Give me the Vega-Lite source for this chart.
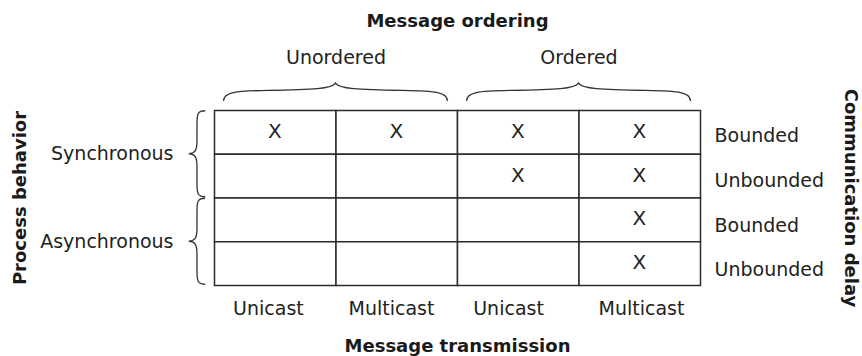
{
  "$schema": "https://vega.github.io/schema/vega-lite/v6.json",
  "width": 486,
  "height": 175,
  "autosize": {"type": "none"},
  "padding": {"left": 214, "top": 110, "right": 162, "bottom": 71},
  "background": "white",
  "config": {
    "view": {"stroke": null},
    "font": "DejaVu Sans",
    "axis": {
      "domain": false, "ticks": false, "grid": false,
      "labelFont": "DejaVu Sans", "labelFontSize": 19, "labelColor": "#222",
      "labelOverlap": false, "labelFlush": false,
      "titleFont": "DejaVu Sans", "titleFontSize": 18, "titleFontWeight": "bold", "titleColor": "#1a1a1a"
    }
  },
  "datasets": {
    "cells": [
      {"row": 0, "col": 0, "mark": "X"}, {"row": 0, "col": 1, "mark": "X"}, {"row": 0, "col": 2, "mark": "X"}, {"row": 0, "col": 3, "mark": "X"},
      {"row": 1, "col": 0, "mark": ""}, {"row": 1, "col": 1, "mark": ""}, {"row": 1, "col": 2, "mark": "X"}, {"row": 1, "col": 3, "mark": "X"},
      {"row": 2, "col": 0, "mark": ""}, {"row": 2, "col": 1, "mark": ""}, {"row": 2, "col": 2, "mark": ""}, {"row": 2, "col": 3, "mark": "X"},
      {"row": 3, "col": 0, "mark": ""}, {"row": 3, "col": 1, "mark": ""}, {"row": 3, "col": 2, "mark": ""}, {"row": 3, "col": 3, "mark": "X"}
    ],
    "ordering": [{"ordering": "Unordered", "center": 1}, {"ordering": "Ordered", "center": 3}],
    "behavior": [{"behavior": "Synchronous", "center": 1}, {"behavior": "Asynchronous", "center": 3}]
  },
  "layer": [
    {
      "data": {"name": "cells"},
      "mark": {"type": "rect", "fill": "white", "stroke": "#2b2b2b", "strokeWidth": 1.5, "binSpacing": 0},
      "encoding": {
        "x": {"field": "col", "type": "quantitative", "bin": {"step": 1, "extent": [0, 4]},
          "scale": {"domain": [0, 4], "nice": false, "zero": false},
          "axis": {"orient": "bottom", "values": [0.444, 1.457, 2.42, 3.514],
            "labelExpr": "datum.value < 1 ? 'Unicast' : datum.value < 2 ? 'Multicast' : datum.value < 3 ? 'Unicast' : 'Multicast'",
            "labelPadding": 14, "title": "Message transmission", "titlePadding": 19}},
        "y": {"field": "row", "type": "quantitative", "bin": {"step": 1, "extent": [0, 4]},
          "scale": {"domain": [0, 4], "nice": false, "zero": false, "reverse": true},
          "axis": {"orient": "left", "values": [1, 3],
            "labelExpr": "datum.value < 2 ? 'Synchronous' : 'Asynchronous'",
            "labelPadding": 41, "title": "Process behavior", "titlePadding": 10}}
      }
    },
    {
      "data": {"name": "cells"},
      "mark": {"type": "text", "fontSize": 20, "color": "#222", "align": "center", "baseline": "middle", "font": "DejaVu Sans"},
      "encoding": {
        "x": {"field": "col", "type": "quantitative", "bin": {"step": 1, "extent": [0, 4]}, "scale": {"domain": [0, 4], "nice": false, "zero": false}, "axis": null},
        "y": {"field": "row", "type": "quantitative", "bin": {"step": 1, "extent": [0, 4]}, "scale": {"domain": [0, 4], "nice": false, "zero": false, "reverse": true}, "axis": null},
        "text": {"field": "mark"}
      }
    },
    {
      "data": {"name": "ordering"},
      "mark": {"type": "point", "shape": "M -1 0.08 C -1 0.0 -0.9 -0.01 -0.6 -0.015 C -0.2 -0.02 -0.03 -0.03 0 -0.08 C 0.03 -0.03 0.2 -0.02 0.6 -0.015 C 0.9 -0.01 1 0 1 0.08", "size": 50176, "filled": false, "stroke": "#333", "strokeWidth": 1.3, "opacity": 1},
      "encoding": {
        "x": {"field": "center", "type": "quantitative", "scale": {"domain": [0, 4], "nice": false, "zero": false},
          "axis": {"orient": "top", "values": [1, 3],
            "labelExpr": "datum.value < 2 ? 'Unordered' : 'Ordered'",
            "labelPadding": 43, "title": "Message ordering", "titlePadding": 18}},
        "y": {"datum": -0.41, "type": "quantitative", "scale": {"domain": [0, 4], "nice": false, "zero": false, "reverse": true}, "axis": null}
      }
    },
    {
      "data": {"name": "behavior"},
      "mark": {"type": "point", "shape": "M 0.19 -1 C 0.02 -1 0 -0.93 0 -0.7 L 0 -0.3 C 0 -0.08 -0.04 -0.01 -0.19 0 C -0.04 0.01 0 0.08 0 0.3 L 0 0.7 C 0 0.93 0.02 1 0.19 1", "size": 7396, "filled": false, "stroke": "#333", "strokeWidth": 1.3, "opacity": 1},
      "encoding": {
        "x": {"datum": -0.14, "type": "quantitative", "scale": {"domain": [0, 4], "nice": false, "zero": false}, "axis": null},
        "y": {"field": "center", "type": "quantitative", "scale": {"domain": [0, 4], "nice": false, "zero": false, "reverse": true},
          "axis": {"orient": "right", "values": [0.58, 1.6, 2.63, 3.64],
            "labelExpr": "datum.value < 1 ? 'Bounded' : datum.value < 2 ? 'Unbounded' : datum.value < 3 ? 'Bounded' : 'Unbounded'",
            "labelAlign": "left", "labelPadding": 14, "title": "Communication delay", "titlePadding": 17}}
      }
    }
  ],
  "resolve": {"axis": {"x": "independent", "y": "independent"}}
}
